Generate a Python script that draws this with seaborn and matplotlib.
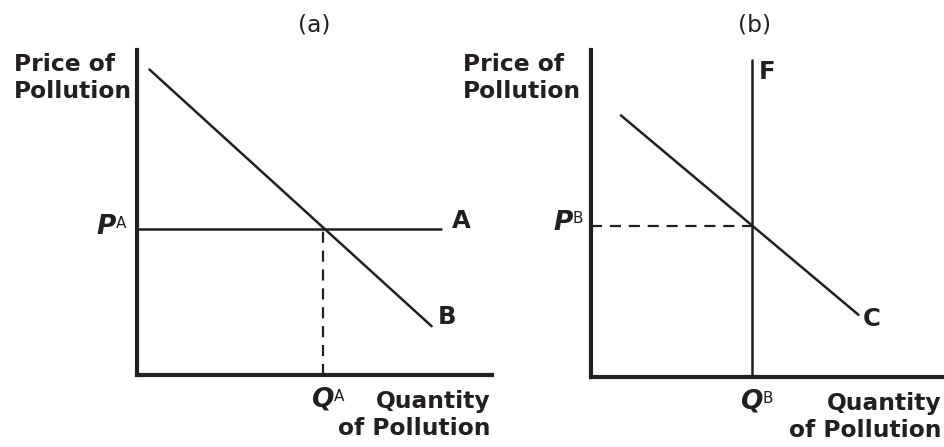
import matplotlib
matplotlib.use("Agg")
import matplotlib.pyplot as plt
import seaborn as sns

# ---- data (chart units, 0..10 on both axes) ----
# panel (a)
curve_b_x = [0.35, 8.3]
curve_b_y = [9.4, 1.5]
line_a_x = [0.0, 8.55]
line_a_y = [4.5, 4.5]
q_a = 5.25
p_a = 4.5
# panel (b)
curve_c_x = [0.85, 7.6]
curve_c_y = [8.0, 1.9]
line_f_x = [4.57, 4.57]
line_f_y = [0.0, 9.7]
q_b = 4.57
p_b = 4.62

panel_titles = ["(a)", "(b)"]
y_label_lines = ["Price of", "Pollution"]
x_label_lines = ["Quantity", "of Pollution"]

sns.set_theme(style="white")
plt.rcParams["font.family"] = ["DejaVu Sans"]

INK = "#231f20"
W, H = 945, 447
fig = plt.figure(figsize=(W / 100, H / 100), dpi=100)
fig.patch.set_facecolor("white")

axL = fig.add_axes([137 / W, 1 - 375 / H, (492 - 137) / W, (375 - 50) / H])
axR = fig.add_axes([591 / W, 1 - 377 / H, (943 - 591) / W, (377 - 50) / H])

for ax in (axL, axR):
    ax.set_xlim(0, 10)
    ax.set_ylim(0, 10)
    ax.set_xticks([])
    ax.set_yticks([])
    ax.set_facecolor("none")
    for s in ("top", "right"):
        ax.spines[s].set_visible(False)
    for s in ("left", "bottom"):
        ax.spines[s].set_linewidth(3.0)
        ax.spines[s].set_color(INK)
        ax.spines[s].set_capstyle("projecting")
    ax.set_xlabel("")
    ax.set_ylabel("")

LW = 1.8
common = dict(estimator=None, sort=False, errorbar=None, color=INK, linewidth=LW, legend=False)

# panel (a)
sns.lineplot(x=curve_b_x, y=curve_b_y, ax=axL, **common)
sns.lineplot(x=line_a_x, y=line_a_y, ax=axL, **common)
sns.lineplot(x=[q_a, q_a], y=[0, p_a], ax=axL, **common)
axL.lines[-1].set_dashes((5, 3.5))
axL.lines[-1].set_linewidth(1.6)

# panel (b)
sns.lineplot(x=curve_c_x, y=curve_c_y, ax=axR, **common)
sns.lineplot(x=line_f_x, y=line_f_y, ax=axR, **common)
sns.lineplot(x=[0, q_b], y=[p_b, p_b], ax=axR, **common)
axR.lines[-1].set_dashes((5, 3.5))
axR.lines[-1].set_linewidth(1.6)

LBL = 16.8
CUR = 17.5
BIG = 19
SUP = 11

def note(ax, text, xy, off, coords="data", **kw):
    ax.annotate(text, xy=xy, xycoords=coords, xytext=off, textcoords="offset pixels",
                color=INK, annotation_clip=False, **kw)

for ax, title, tx in ((axL, panel_titles[0], 0.5), (axR, panel_titles[1], 0.466)):
    note(ax, title, (tx, 1), (0, 25), coords="axes fraction", fontsize=LBL, ha="center", va="center")

# y labels (two lines, left aligned)
for ax, dx in ((axL, -123), (axR, -128)):
    note(ax, y_label_lines[0], (0, 1), (dx, -21), coords="axes fraction", fontsize=LBL,
         fontweight="bold", ha="left", va="baseline")
    note(ax, y_label_lines[1], (0, 1), (dx, -48), coords="axes fraction", fontsize=LBL,
         fontweight="bold", ha="left", va="baseline")

# x labels (two lines, right aligned)
for ax in (axL, axR):
    note(ax, x_label_lines[0], (1, 0), (-1, -33), coords="axes fraction", fontsize=LBL,
         fontweight="bold", ha="right", va="baseline")
    note(ax, x_label_lines[1], (1, 0), (-1, -60), coords="axes fraction", fontsize=LBL,
         fontweight="bold", ha="right", va="baseline")

# curve labels
note(axL, "A", (line_a_x[1], line_a_y[1]), (21, 8), fontsize=CUR, fontweight="bold", ha="center", va="center")
note(axL, "B", (curve_b_x[1], curve_b_y[1]), (15, 9), fontsize=CUR, fontweight="bold", ha="center", va="center")
note(axR, "F", (line_f_x[1], line_f_y[1]), (15, -12), fontsize=CUR, fontweight="bold", ha="center", va="center")
note(axR, "C", (curve_c_x[1], curve_c_y[1]), (13, -4), fontsize=CUR, fontweight="bold", ha="center", va="center")

# P and Q markers with superscripts
note(axL, "P", (0, p_a), (-21, 2), fontsize=BIG, fontweight="bold", fontstyle="italic", ha="right", va="center")
note(axL, "A", (0, p_a), (-21, 13), fontsize=SUP, ha="left", va="top")
note(axR, "P", (0, p_b), (-18, 3), fontsize=BIG, fontweight="bold", fontstyle="italic", ha="right", va="center")
note(axR, "B", (0, p_b), (-18, 15), fontsize=SUP, ha="left", va="top")

note(axL, "Q", (q_a, 0), (-1, -12), fontsize=BIG, fontweight="bold", fontstyle="italic", ha="center", va="top")
note(axL, "A", (q_a, 0), (10, -14), fontsize=SUP, ha="left", va="top")
note(axR, "Q", (q_b, 0), (-1, -12), fontsize=BIG, fontweight="bold", fontstyle="italic", ha="center", va="top")
note(axR, "B", (q_b, 0), (11, -14), fontsize=SUP, ha="left", va="top")

fig.savefig("out.png", dpi=100, facecolor="white")
